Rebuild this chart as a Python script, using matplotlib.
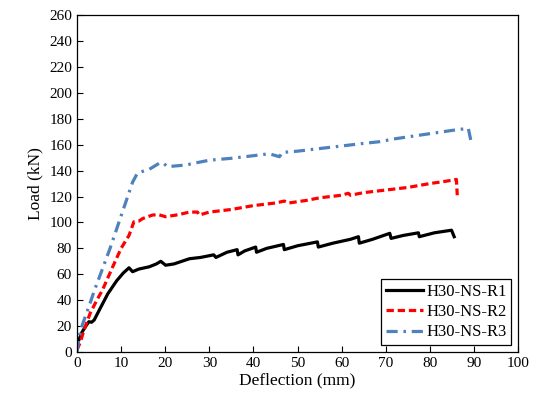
import matplotlib
matplotlib.use("Agg")
import matplotlib.pyplot as plt

# H30-NS-R1 (black)
r1_x = [0, 0.5, 1.2, 2.0, 2.7, 3.3, 3.9, 5, 7, 9, 10.5, 11.8, 12.6, 14, 16.4, 18, 19, 20.1,
        22, 25.5, 28, 31, 31.5, 34, 36.3, 36.5, 38, 40.5, 40.7, 43, 46.8, 47, 50, 54.5, 54.7,
        58, 62, 63.8, 64.0, 67, 70.9, 71.2, 74, 77.4, 77.6, 81, 84.9, 85.5]
r1_y = [5, 10, 15.7, 20, 23.4, 23, 24.7, 32, 45, 55, 61, 65, 62, 64, 65.8, 68, 70, 67,
        68, 72, 73, 75, 73, 77, 79, 75, 78, 81, 77, 80, 83, 79, 82, 85, 81,
        84, 87, 89, 84, 87, 91.6, 87.7, 90, 92, 89, 92, 94, 89]

# H30-NS-R2 (red)
r2_x = [0, 0.8, 1.6, 3, 4.5, 5.8, 8, 10, 11.8, 12.9, 14, 14.9, 17.1, 18.5, 20.1, 23, 25.5,
        27.3, 27.7, 30, 35, 40, 45, 47, 48, 52, 55, 60, 61.5, 62, 65, 70, 75, 80, 84, 86, 86.2]
r2_y = [1.5, 8, 17, 30, 40, 48, 65, 80, 90, 100.5, 101, 103, 105.7, 106, 104.4, 106, 108,
        108, 105.7, 108, 110, 113, 115, 116.5, 115, 117, 119, 121, 122.5, 121, 123, 125, 127,
        130, 132, 133.2, 121]

# H30-NS-R3 (blue)
r3_x = [0, 0.5, 1.2, 2.7, 4, 5.4, 7.5, 10.3, 11.5, 12.6, 13.7, 14.5, 16.4, 18.6, 19.5, 20.5,
        22, 24.7, 27, 30, 35, 40, 43.6, 45.9, 46.5, 50, 55, 60, 65, 68.6, 72, 75, 80, 85,
        88.7, 89.5]
r3_y = [0, 12, 20.8, 35, 48, 60.7, 80, 108, 120, 131, 138, 139, 141, 145.6, 146, 143,
        143.5, 144.3, 146, 148, 149.5, 151.5, 153, 150.7, 154, 155, 157, 159, 161, 162.3,
        164.5, 166, 168.5, 171, 172.6, 159.7]

plt.rcParams['font.family'] = ['Liberation Serif', 'DejaVu Serif']

fig = plt.figure(figsize=(5.42, 4.07), dpi=100)
ax = fig.add_axes([0.142, 0.135, 0.814, 0.828])

ax.plot(r1_x, r1_y, color='black', lw=2.3, label='H30-NS-R1')
ax.plot(r2_x, r2_y, color='#ff0000', lw=2.3, dashes=(2.3, 1.2), label='H30-NS-R2')
ax.plot(r3_x, r3_y, color='#4f81bd', lw=2.3, dashes=(3.5, 1.8, 0.8, 1.8), label='H30-NS-R3')

ax.set_xlim(0, 100)
ax.set_ylim(0, 260)
ax.set_xticks(range(0, 101, 10))
ax.set_yticks(range(0, 261, 20))
ax.tick_params(direction='in', labelsize=11, length=4, width=0.8)
for s in ax.spines.values():
    s.set_linewidth(0.9)

ax.set_xlabel('Deflection (mm)', fontsize=12.5, labelpad=2)
ax.set_ylabel('Load (kN)', fontsize=12.5, labelpad=4)

leg = ax.legend(loc='lower right', fontsize=12, fancybox=False, framealpha=1,
                edgecolor='black', handlelength=2.2, borderaxespad=0.4,
                borderpad=0.3, labelspacing=0.25, handletextpad=0.2)
leg.get_frame().set_linewidth(0.9)

fig.savefig('out.png', dpi=100)
